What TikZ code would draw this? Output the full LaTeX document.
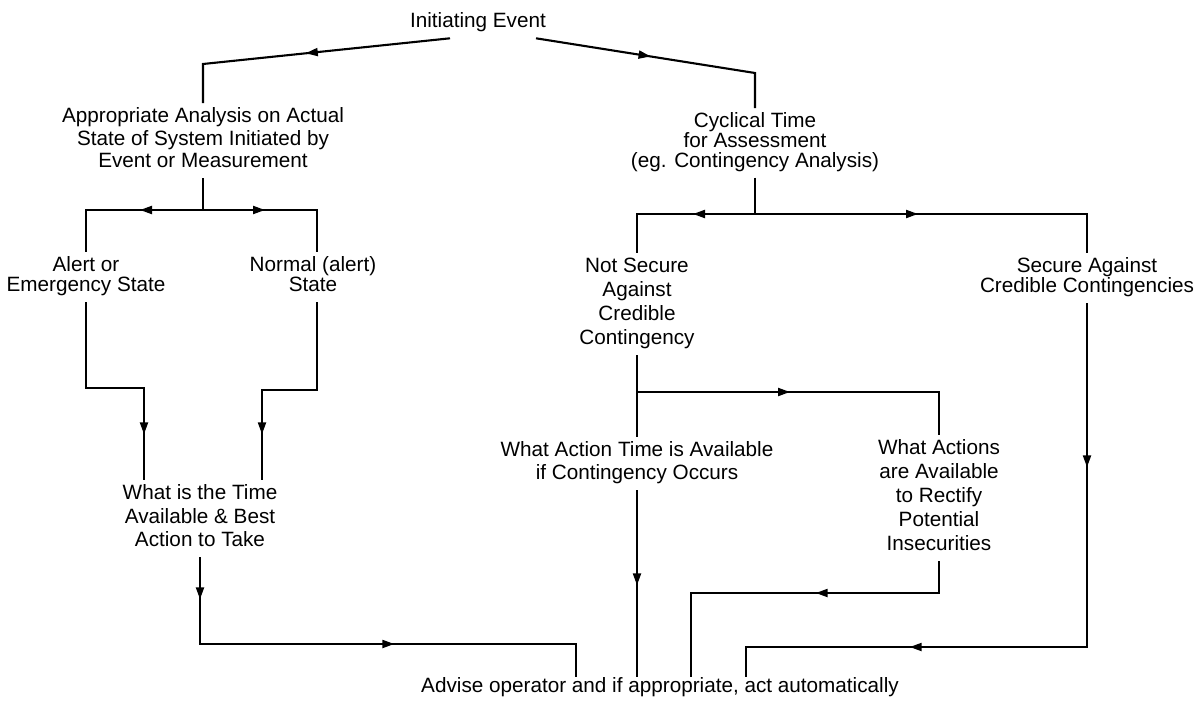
\documentclass[tikz,border=0pt]{standalone}
\usepackage{fontspec}
\setmainfont{Liberation Sans}
\usetikzlibrary{arrows.meta,decorations.markings}
% keep every line of a label on its own fixed baseline grid
\setlength{\lineskiplimit}{-100pt}
% strut: a little above cap height, a little below the descenders
\newcommand{\ls}{\rule[-6.5pt]{0pt}{22.3pt}}

\begin{document}
\begin{tikzpicture}[x=1pt,y=-1pt,
  lbl/.style={font=\fontsize{20.7pt}{#1}\selectfont, align=center,
              inner sep=0pt, outer sep=4pt, anchor=north},
  lbl/.default=22.5pt,
  wire/.style={line width=2.1pt},
  arrowat/.style={postaction={decorate,decoration={markings,
      mark=at position #1 with {\arrow{Triangle[length=12pt,width=8pt]}}}}},
  arrowsat/.style 2 args={postaction={decorate,decoration={markings,
      mark=at position #1 with {\arrow{Triangle[length=12pt,width=8pt]}},
      mark=at position #2 with {\arrow{Triangle[length=12pt,width=8pt]}}}}}
]
\fill[white] (0,0) rectangle (1204,701);
\useasboundingbox (0,0) rectangle (1204,701);

% ---- labels ----
\node[lbl] (init) at (478,8) {\ls Initiating Event};
\node[lbl] (appr) at (203,103)
  {\ls Appropriate Analysis on Actual\\\ls State of System Initiated by\\\ls Event or Measurement};
\node[lbl=19.7pt] (cycl) at (755,108)
  {\ls Cyclical Time\\\ls for Assessment\\\ls (eg. Contingency Analysis)};
\node[lbl=20pt] (alert) at (86,252) {\ls Alert or\\\ls Emergency State};
\node[lbl=20pt] (normal) at (313,252) {\ls Normal (alert)\\\ls State};
\node[lbl=24pt] (notsec) at (637,253)
  {\ls Not Secure\\\ls Against\\\ls Credible\\\ls Contingency};
\node[lbl=20pt] (secure) at (1087,253)
  {\ls Secure Against\\\ls Credible Contingencies};
\node[lbl=23pt] (actime) at (637,437)
  {\ls What Action Time is Available\\\ls if Contingency Occurs};
\node[lbl=24pt] (actions) at (939,435)
  {\ls What Actions\\\ls are Available\\\ls to Rectify\\\ls Potential\\\ls Insecurities};
\node[lbl=23.5pt] (whattime) at (200,480)
  {\ls What is the Time\\\ls Available \& Best\\\ls Action to Take};
\node[lbl, outer sep=0pt] (advise) at (660,677)
  {\ls Advise operator and if appropriate, act automatically};

% ---- bends and junctions ----
\coordinate (kL) at (203,64);
\coordinate (kR) at (755,73);
\coordinate (sL) at (203,210);
\coordinate (bA) at (144,388);
\coordinate (bB) at (262,390);
\coordinate (bW) at (576,644);
\coordinate (sR) at (755,214);
\coordinate (bN) at (637,392);
\coordinate (bC) at (691,593);
\coordinate (bD) at (746,647);

% ---- connectors ----
\draw[wire,arrowat=145pt] ([xshift=-28pt]init.south) -- (kL) -- (appr.north);
\draw[wire,arrowat=116pt] ([xshift=58pt]init.south) -- (kR) -- (cycl.north);

\draw[wire] (appr.south) -- (sL);
\draw[wire,arrowat=63pt] (sL) -| (alert.north);
\draw[wire,arrowat=62pt] (sL) -| ([xshift=4pt]normal.north);
\draw[wire,arrowat=190pt] (alert.south) |- (bA) -- (bA |- whattime.north);
\draw[wire,arrowat=187pt] ([xshift=4pt]normal.south) |- (bB) -- (bB |- whattime.north);
\draw[wire,arrowsat={42pt}{281pt}] (whattime.south) |- (bW) -- (bW |- advise.north);

\draw[wire] (cycl.south) -- (sR);
\draw[wire,arrowat=62pt] (sR) -| (notsec.north);
\draw[wire,arrowat=163pt] (sR) -| (secure.north);
\draw[wire] (notsec.south) -- (actime.north);
\draw[wire,arrowat=153pt] (bN) -| (actions.north);
\draw[wire,arrowat=95pt] (actime.south) -- (actime.south |- advise.north);
\draw[wire,arrowat=155pt] (actions.south) |- (bC) -- (bC |- advise.north);
\draw[wire,arrowsat={164pt}{521pt}] (secure.south) |- (bD) -- (bD |- advise.north);
\end{tikzpicture}
\end{document}
